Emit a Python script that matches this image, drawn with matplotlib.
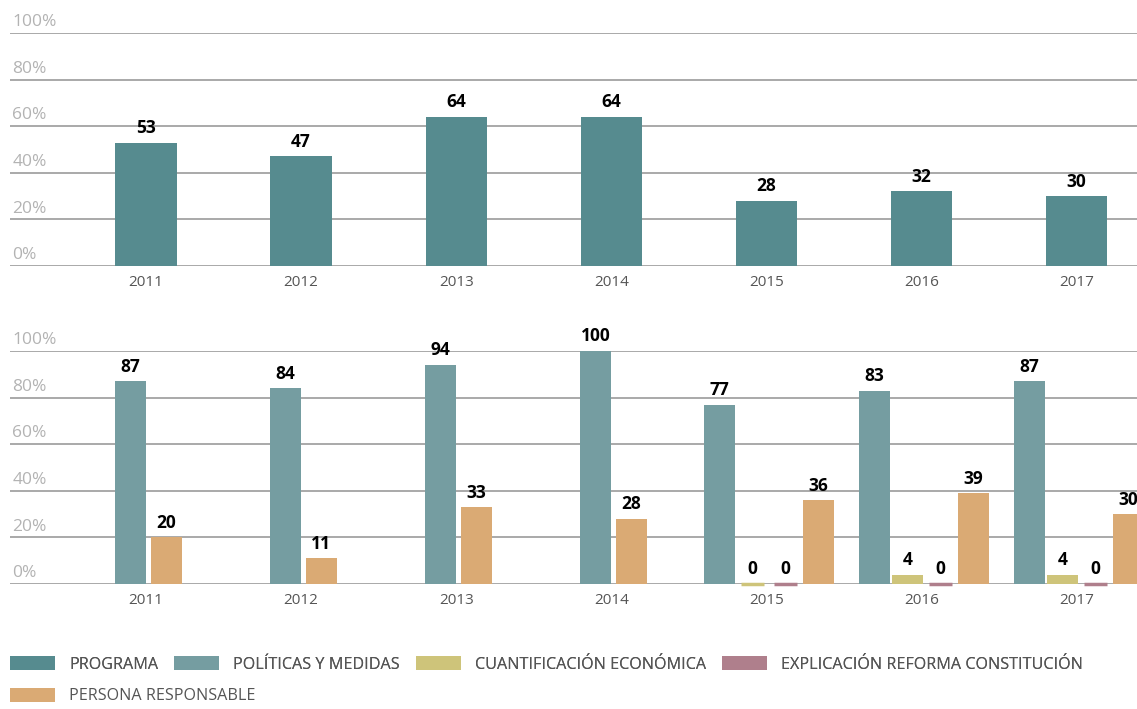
import numpy as np
import matplotlib.pyplot as plt
from matplotlib.patches import Patch
from matplotlib.transforms import blended_transform_factory

# %% DATA
years = ['2011', '2012', '2013', '2014', '2015', '2016', '2017']
programa = [53, 47, 64, 64, 28, 32, 30]

politicas = [87, 84, 94, 100, 77, 83, 87]
cuantificacion = [None, None, None, None, 0, 4, 4]
explicacion = [None, None, None, None, 0, 0, 0]
persona = [20, 11, 33, 28, 36, 39, 30]

yticks = [0, 20, 40, 60, 80, 100]

labels = ['PROGRAMA', 'POLÍTICAS Y MEDIDAS', 'CUANTIFICACIÓN ECONÓMICA',
          'EXPLICACIÓN REFORMA CONSTITUCIÓN', 'PERSONA RESPONSABLE']
colors = ['#568b8f', '#759da1', '#cec47a', '#af7f8c', '#daaa74']

plt.rcParams['font.family'] = ['Open Sans', 'DejaVu Sans']

fig = plt.figure(figsize=(11.37, 7.09), dpi=100)
ax1 = fig.add_axes([0.0088, 0.6248, 0.9912, 0.3287])
ax2 = fig.add_axes([0.0088, 0.1763, 0.9912, 0.3286])

x = np.arange(len(years))


def style(ax):
    ax.set_ylim(0, 100)
    ax.set_xlim(-0.877, 6.39)
    ax.set_yticks(yticks)
    ax.yaxis.grid(True, color='#a9a9a9', lw=1.4)
    ax.set_axisbelow(True)
    ax.tick_params(axis='y', left=False, labelleft=False)
    ax.tick_params(axis='x', bottom=False, pad=3, labelsize=11, labelcolor='#555555')
    ax.set_xticks(x)
    ax.set_xticklabels(years)
    for s in ax.spines.values():
        s.set_visible(False)
    tr = blended_transform_factory(ax.transAxes, ax.transData)
    for v in yticks:
        ax.text(0.002, v + 1.2, f'{v}%', transform=tr, ha='left', va='bottom',
                fontsize=12.5, color='#b3b3b3', clip_on=False)


def value_label(ax, xc, v):
    ax.annotate(f'{v}', (xc, v), xytext=(0, 4), textcoords='offset points',
                ha='center', va='bottom', fontsize=12.5, fontweight='bold',
                color='black', clip_on=False)


# top panel
style(ax1)
ax1.bar(x, programa, width=0.395, color=colors[0])
for xi, v in zip(x, programa):
    value_label(ax1, xi, v)

# bottom panel: grouped bars, missing series are left out of the group
style(ax2)
series = [politicas, cuantificacion, explicacion, persona]
for i in range(len(years)):
    present = [k for k, s in enumerate(series) if s[i] is not None]
    n = len(present)
    step = 0.232 if n == 2 else 0.213
    for j, k in enumerate(present):
        xc = x[i] + 0.015 + (j - (n - 1) / 2) * step
        v = series[k][i]
        if v == 0:
            ax2.bar(xc, 0, width=0.15, color=colors[k + 1],
                    edgecolor=colors[k + 1], lw=2.5, clip_on=False)
        else:
            ax2.bar(xc, v, width=0.2, color=colors[k + 1], lw=0)
        value_label(ax2, xc, v)

handles = [Patch(facecolor=c, edgecolor='none') for c in colors]
leg_kw = dict(loc='upper left', frameon=False, handlelength=2.8,
              handleheight=1.0, handletextpad=0.85, columnspacing=1.0,
              borderaxespad=0, borderpad=0, labelcolor='#555555',
              prop={'size': 11.6})
leg1 = fig.legend(handles[:4], labels[:4], ncol=4,
                  bbox_to_anchor=(0.009, 0.075), **leg_kw)
fig.add_artist(leg1)
fig.legend(handles[4:], labels[4:], ncol=1,
           bbox_to_anchor=(0.009, 0.03), **leg_kw)

plt.savefig('out.png', dpi=100)
